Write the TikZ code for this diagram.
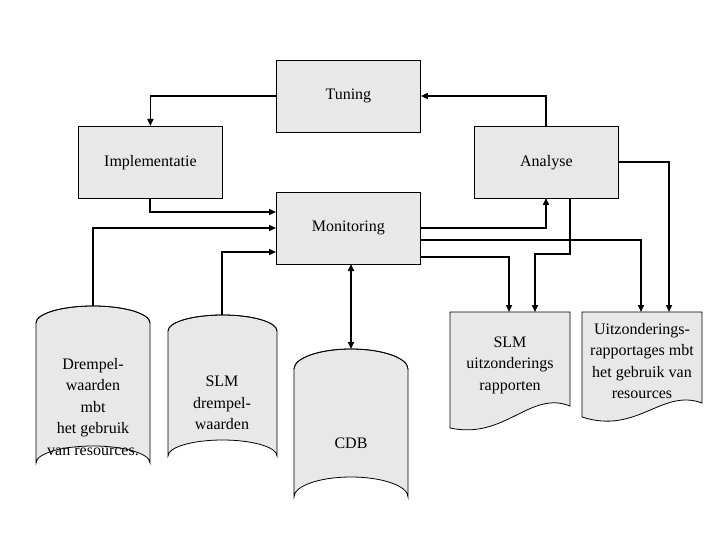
\documentclass[tikz,border=0pt]{standalone}
\usepackage{fontspec}
\setmainfont{Liberation Serif}
\usetikzlibrary{arrows.meta}
\definecolor{boxgray}{HTML}{E8E8E8}
\begin{document}
\begin{tikzpicture}[x=1pt,y=-1pt,
  box/.style={draw,fill=boxgray,line width=0.8pt,minimum width=144pt,minimum height=72pt,anchor=north west,font=\fontsize{16}{20}\selectfont},
  txt/.style={align=center,font=\fontsize{16}{21.5}\selectfont},
  shp/.style={draw,fill=boxgray,line width=0.8pt},
  conn/.style={line width=1.6pt,-{Triangle[length=7pt,width=6pt]}}]
\useasboundingbox (0,0) rectangle (720,540);
\node[box] (tun) at (276,60) {Tuning};
\node[box] (imp) at (78,126) {Implementatie};
\node[box] (ana) at (474,126) {Analyse};
\node[box] (mon) at (276,192) {Monitoring};
% cylinders
\newcommand{\cyl}[5]{% x1 x2 ytopcenter ybotcenter ry
  \filldraw[shp] (#1,#3) -- (#1,#4) arc[start angle=180,end angle=360,x radius={(#2-#1)/2},y radius=#5] -- (#2,#3) arc[start angle=0,end angle=-180,x radius={(#2-#1)/2},y radius=#5] -- cycle;
  \draw[line width=0.8pt] (#1,#3) arc[start angle=180,end angle=360,x radius={(#2-#1)/2},y radius=#5];}
\cyl{36}{150}{323}{463}{17}
\cyl{168}{277}{331}{456}{16}
\cyl{294}{408}{369}{497}{20}
\coordinate (c1) at (93,306);
\coordinate (c2) at (222,315);
\coordinate (c3) at (351,349);
\node[txt] (t1) at (93,407) {Drempel-\\waarden\\mbt\\het gebruik\\van resources.};
\node[txt] (t2) at (222,403) {SLM\\drempel-\\waarden};
\node[txt] (t3) at (351,443) {CDB};
% documents
\filldraw[shp] (450,312) -- (570,312) -- (570,406) .. controls (530,390) and (505,440) .. (450,428) -- cycle;
\filldraw[shp] (582,312) -- (702,312) -- (702,403) .. controls (662,388) and (637,435) .. (582,417) -- cycle;
\coordinate (d1) at (510,312);
\node[txt] (dt1) at (510,365) {SLM\\uitzonderings\\rapporten};
\node[txt] (dt2) at (642,361) {Uitzonderings-\\rapportages mbt\\het gebruik van\\resources};
% connectors
\draw[conn] (tun.west |- 0,96) -| (imp.north);
\draw[conn] (ana.north -| 546,0) |- (tun.east |- 0,96);
\draw[conn] (150,198) |- (276,212);
\draw[conn] (c1) |- (276,228);
\draw[conn] (c2) |- (276,252);
\draw[line width=1.6pt,{Triangle[length=7pt,width=6pt]}-{Triangle[length=7pt,width=6pt]}] (351,264) -- (c3);
\draw[conn] (420,228) -| (546,198);
\draw[conn] (420,240) -| (641,312);
\draw[conn] (420,257) -| (509,312);
\draw[conn] (570,198) |- (535,254) -- (535,312);
\draw[conn] (618,162) -| (669,312);
\end{tikzpicture}
\end{document}
